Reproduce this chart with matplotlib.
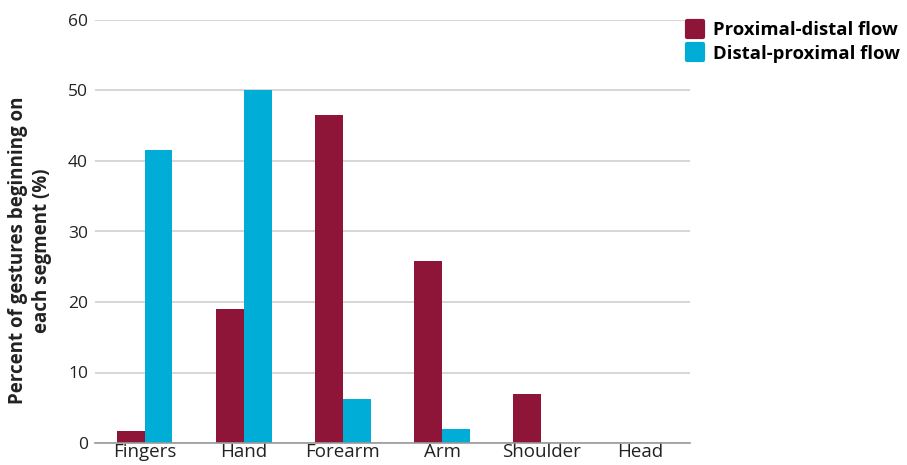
import matplotlib
matplotlib.use("Agg")
import matplotlib.pyplot as plt
import numpy as np
from matplotlib.lines import Line2D
from matplotlib.markers import MarkerStyle

plt.rcParams['font.family'] = ['Open Sans', 'DejaVu Sans']

categories = ["Fingers", "Hand", "Forearm", "Arm", "Shoulder", "Head"]
proximal_distal = [1.7, 19.0, 46.5, 25.8, 7.0, 0.0]
distal_proximal = [41.6, 50.0, 6.2, 2.0, 0.0, 0.0]
series_names = ["Proximal-distal flow", "Distal-proximal flow"]
yticks = [0, 10, 20, 30, 40, 50, 60]

c_red = "#8E1538"
c_blue = "#00ADD6"

fig = plt.figure(figsize=(9.07, 4.65), dpi=100)
ax = fig.add_axes([95/907, 1-443/465, 595/907, 423/465])

x = np.arange(len(categories))
w = 0.28
ax.bar(x - w/2, proximal_distal, width=w, color=c_red, zorder=3)
ax.bar(x + w/2, distal_proximal, width=w, color=c_blue, zorder=3)

ax.set_xlim(-0.5, len(categories) - 0.5)
ax.set_ylim(0, 60)
ax.set_yticks(yticks)
ax.set_yticklabels([str(t) for t in yticks], fontsize=12.5, color="#222222")
ax.set_xticks(x)
ax.set_xticklabels(categories, fontsize=13.5, color="#222222")
ax.tick_params(axis='both', length=0)
ax.tick_params(axis='y', pad=5)
ax.tick_params(axis='x', pad=0)
ax.grid(axis='y', color="#d0d0d0", linewidth=1.2, zorder=0)
for s in ["top", "right", "left"]:
    ax.spines[s].set_visible(False)
ax.spines["bottom"].set_color("#999999")
ax.spines["bottom"].set_linewidth(1.2)
ax.spines["bottom"].set_zorder(4)

ax.set_ylabel("Percent of gestures beginning on\neach segment (%)", fontsize=13.5,
              fontweight='bold', color="#222222", linespacing=1.25)
ax.yaxis.set_label_coords(-0.072, 0.455)

ms = MarkerStyle('s', joinstyle='round')
handles = [Line2D([0], [0], marker=ms, linestyle='none', markersize=11,
                  markerfacecolor=c, markeredgecolor=c, markeredgewidth=3)
           for c in (c_red, c_blue)]
fig.legend(handles, series_names, loc='upper left', bbox_to_anchor=(686/907, 1-21/465),
           frameon=False, prop={'weight': 'bold', 'size': 13.3}, handletextpad=0.45,
           labelspacing=0.3, handlelength=1.0, borderaxespad=0, borderpad=0)

fig.savefig("out.png", dpi=100)
